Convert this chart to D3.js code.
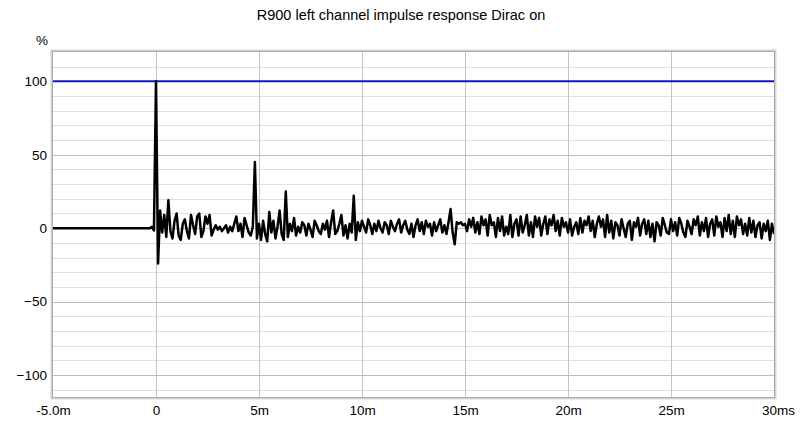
<!DOCTYPE html>
<html><head><meta charset="utf-8">
<script src="https://cdn.jsdelivr.net/npm/d3@7"></script>
<style>
html,body{margin:0;padding:0;background:#fff;}
svg{display:block;font-family:"Liberation Sans",Arial,sans-serif;}
</style></head>
<body><svg id="chart" width="800" height="426"></svg>
<script>
const titleText = "R900 left channel impulse response Dirac on";
const yUnit = "%";
const xTickValues = [-5, 0, 5, 10, 15, 20, 25, 30];
const xTickLabels = ["-5.0m", "0", "5m", "10m", "15m", "20m", "25m", "30ms"];
const yTickValues = [-100, -50, 0, 50, 100];
const referenceLevel = [100];
// pre-impulse segment (ms, %)
const preTimeMs = [-5, -0.3, -0.2, -0.1];
const preValue = [0, 0, 1, -1.5];
// impulse samples from 0 ms, every 0.1 ms (%)
const sampleStartMs = 0;
const sampleStepMs = 0.1;
const impulseValues = [
 100,-24,12,-3,9,-6,19,-2,-7,5,
 10,-5,-8,3,6,-2,-7,9,2,-4,
 8,10,-6,-2,8,3,9,-5,-1,2,
 -1,1,-2,0,2,-3,1,-2,3,8,
 -2,3,-6,7,2,-3,-5,1,45,-7,
 3,-8,5,-4,-9,11,-3,5,-7,1,
 12,-4,-8,25,-6,3,-2,7,-5,1,
 -3,4,2,-5,3,-1,-6,5,2,-2,
 -4,3,-1,5,-6,4,12,-4,-2,3,
 9,-5,2,-7,3,-3,22,-8,4,-2,
 5,1,-3,6,2,-4,3,-2,5,0,
 -3,4,2,-4,5,1,-2,3,6,-3,
 2,5,-1,-4,3,-6,2,6,-2,4,
 -4,5,1,3,-5,4,-2,2,6,-3,
 2,-4,4,13,-3,-11,4,3,4,2,
 3,-2,6,1,7,-3,4,-4,8,2,
 6,-5,9,2,4,-6,7,-2,8,-5,
 1,-4,9,-6,3,6,-5,8,-3,2,
 9,-5,4,-6,8,1,7,-5,3,8,
 -4,6,2,9,-2,5,-5,7,1,4,
 -3,6,-5,1,4,-4,7,-3,5,2,
 8,-2,5,-6,3,8,1,6,-6,9,
 -3,5,-7,4,2,-5,6,0,-6,3,
 5,-8,4,1,7,-5,3,6,-4,5,
 -6,3,-9,4,2,-5,7,2,-3,-4,
 6,-2,4,-5,7,3,-3,-6,5,1,
 -4,6,2,8,-5,4,-2,7,-6,3,
 6,-5,8,1,4,-6,7,-2,9,-4,
 5,-6,8,2,6,-4,3,-5,7,-3,
 5,-6,2,4,-7,3,-2,5,-8,3,
 -4
];

const svg = d3.select("#chart");
const L = 53, R = 774, T = 52, B = 397;
const x = d3.scaleLinear().domain([-5, 30]).range([L, R]);
const y = d3.scaleLinear().domain([-115, 120]).range([B, T]);

svg.append("rect").attr("x", L).attr("y", T).attr("width", R - L).attr("height", B - T).attr("fill", "#ffffff");

const minor = d3.range(-110, 111, 10).filter(v => v % 50 !== 0);
svg.append("g").selectAll("line").data(minor).join("line")
  .attr("x1", L).attr("x2", R).attr("y1", d => Math.round(y(d)) + 0.5).attr("y2", d => Math.round(y(d)) + 0.5)
  .attr("stroke", "#dedede").attr("stroke-width", 1);
svg.append("g").selectAll("line").data(yTickValues).join("line")
  .attr("x1", L).attr("x2", R).attr("y1", d => Math.round(y(d)) + 0.5).attr("y2", d => Math.round(y(d)) + 0.5)
  .attr("stroke", "#bdbdbd").attr("stroke-width", 1);
svg.append("g").selectAll("line").data(xTickValues.slice(1, -1)).join("line")
  .attr("x1", d => Math.round(x(d)) + 0.5).attr("x2", d => Math.round(x(d)) + 0.5).attr("y1", T).attr("y2", B)
  .attr("stroke", "#c4c4c4").attr("stroke-width", 1);

svg.append("clipPath").attr("id", "clip").append("rect")
  .attr("x", L).attr("y", T).attr("width", R - L).attr("height", B - T);

svg.append("g").attr("clip-path", "url(#clip)").selectAll("line").data(referenceLevel).join("line")
  .attr("x1", L).attr("x2", R).attr("y1", d => y(d)).attr("y2", d => y(d))
  .attr("stroke", "#1414c8").attr("stroke-width", 2);

const pts = preTimeMs.map((t, i) => [t, preValue[i]])
  .concat(impulseValues.map((v, i) => [sampleStartMs + i * sampleStepMs, v]));
const line = d3.line().x(d => x(d[0])).y(d => y(d[1]));
svg.append("path").attr("clip-path", "url(#clip)").datum(pts)
  .attr("d", line).attr("fill", "none").attr("stroke", "#000").attr("stroke-width", 2.5)
  .attr("stroke-linejoin", "round");

svg.append("rect").attr("x", L - 1.5).attr("y", T - 1.5).attr("width", R - L + 3).attr("height", B - T + 3)
  .attr("fill", "none").attr("stroke", "#d4d4d4").attr("stroke-width", 2);
svg.append("rect").attr("x", L - 0.5).attr("y", T - 0.5).attr("width", R - L + 1).attr("height", B - T + 1)
  .attr("fill", "none").attr("stroke", "#a8a8a8").attr("stroke-width", 1);

const yAxis = svg.append("g").attr("transform", `translate(${L - 6},0)`)
  .call(d3.axisLeft(y).tickValues(yTickValues).tickSize(0).tickPadding(0).tickFormat(d3.format("d")));
yAxis.select(".domain").remove();
yAxis.selectAll("text").attr("font-size", 13.5).attr("fill", "#000").attr("font-family", "Liberation Sans, Arial, sans-serif");

const xAxis = svg.append("g").attr("transform", `translate(0,${B + 8})`)
  .call(d3.axisBottom(x).tickValues(xTickValues).tickSize(0).tickPadding(0)
    .tickFormat((d, i) => xTickLabels[i]));
xAxis.select(".domain").remove();
xAxis.selectAll("text").attr("font-size", 13.5).attr("fill", "#000").attr("font-family", "Liberation Sans, Arial, sans-serif")
  .attr("dx", (d, i) => i === xTickLabels.length - 1 ? 4 : 0);

svg.append("text").attr("x", 401).attr("y", 20).attr("text-anchor", "middle")
  .attr("font-size", 14.5).attr("fill", "#000").text(titleText);
svg.append("text").attr("x", 36).attr("y", 45).attr("font-size", 13.5).attr("fill", "#000").text(yUnit);
</script></body></html>
